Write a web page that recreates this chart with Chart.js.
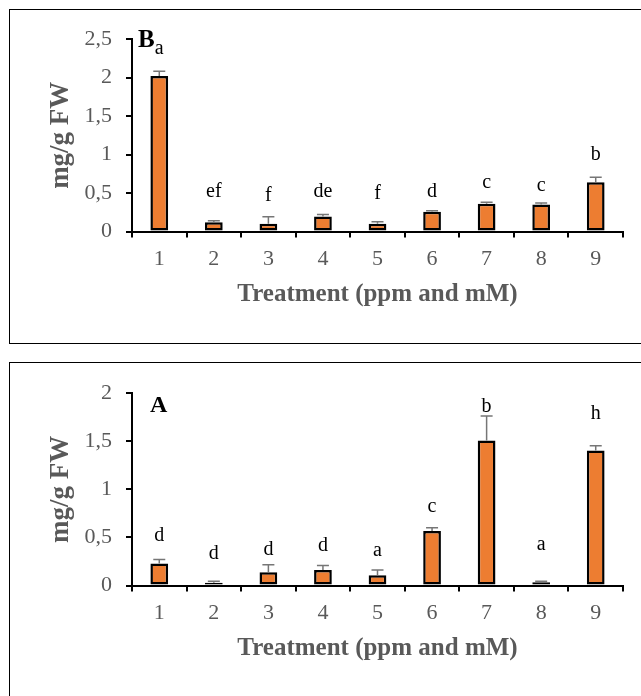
<!DOCTYPE html>
<html>
<head>
<meta charset="utf-8">
<script src="https://cdn.jsdelivr.net/npm/chart.js@4.4.1/dist/chart.umd.min.js"></script>
<style>
  html, body { margin: 0; padding: 0; background: #ffffff; overflow: hidden; }
  body { width: 641px; height: 696px; position: relative; }
  .panel { position: absolute; border: 1.5px solid #000; box-sizing: border-box; }
  canvas { position: absolute; left: 0; }
</style>
</head>
<body>
<div class="panel" style="left:9px; top:9px; width:700px; height:335px;"></div>
<div class="panel" style="left:9px; top:362px; width:700px; height:400px;"></div>
<canvas id="chartB" width="641" height="345" style="top:0px;"></canvas>
<canvas id="chartA" width="641" height="351" style="top:345px;"></canvas>
<script>
// ---- data ----
const categories = ['1', '2', '3', '4', '5', '6', '7', '8', '9'];

// Panel B (top)
const valuesB = [2.02, 0.12, 0.10, 0.196, 0.10, 0.255, 0.36, 0.35, 0.64];
const errorsB = [0.06, 0.02, 0.09, 0.024, 0.026, 0.015, 0.02, 0.02, 0.065];
const lettersB = ['a', 'ef', 'f', 'de', 'f', 'd', 'c', 'c', 'b'];
const letterLevelsB = [2.37, 0.51, 0.47, 0.51, 0.49, 0.52, 0.63, 0.60, 1.0];
const yTicksB = { min: 0, max: 2.5, step: 0.5 };

// Panel A (bottom)
const valuesA = [0.228, 0.028, 0.138, 0.162, 0.107, 0.567, 1.51, 0.035, 1.405];
const errorsA = [0.042, 0.017, 0.077, 0.045, 0.053, 0.033, 0.255, 0.01, 0.048];
const lettersA = ['d', 'd', 'd', 'd', 'a', 'c', 'b', 'a', 'h'];
const letterLevelsA = [0.52, 0.33, 0.37, 0.41, 0.36, 0.82, 1.86, 0.425, 1.79];
const yTicksA = { min: 0, max: 2, step: 0.5 };

const xTitle = 'Treatment (ppm and mM)';
const yTitle = 'mg/g FW';

// ---- rendering ----
const SERIF = '"Liberation Serif", "Times New Roman", serif';
const GREY = '#595959';

const annotPlugin = {
  id: 'annot',
  afterDatasetsDraw(chart, args, opts) {
    const ctx = chart.ctx;
    const meta = chart.getDatasetMeta(0);
    const y = chart.scales.y;
    const ds = chart.data.datasets[0];
    ctx.save();
    // error bars (upper)
    ctx.strokeStyle = '#767676';
    ctx.lineWidth = 1.5;
    meta.data.forEach((bar, i) => {
      const top = y.getPixelForValue(ds.data[i] + opts.errors[i]);
      ctx.beginPath();
      ctx.moveTo(bar.x, bar.y);
      ctx.lineTo(bar.x, top);
      ctx.moveTo(bar.x - 6, top);
      ctx.lineTo(bar.x + 6, top);
      ctx.stroke();
    });
    // significance letters
    ctx.fillStyle = '#000';
    ctx.font = '20px ' + SERIF;
    ctx.textAlign = 'center';
    ctx.textBaseline = 'middle';
    meta.data.forEach((bar, i) => {
      ctx.fillText(opts.letters[i], bar.x, y.getPixelForValue(opts.levels[i]));
    });
    // panel label
    const area = chart.chartArea;
    ctx.font = 'bold ' + opts.panelSize + 'px ' + SERIF;
    ctx.textAlign = 'left';
    ctx.textBaseline = 'alphabetic';
    ctx.fillText(opts.panel, area.left + opts.panelDx, area.top + opts.panelDy);
    ctx.restore();
  }
};

function makeChart(id, values, errors, letters, levels, yt, panel, panelSize, panelDx, panelDy, padTop, xHeight, titlePad) {
  return new Chart(document.getElementById(id), {
    type: 'bar',
    data: {
      labels: categories,
      datasets: [{
        data: values,
        backgroundColor: '#ED7D31',
        borderColor: '#000000',
        borderWidth: 2.5,
        borderSkipped: false,
        categoryPercentage: 1,
        barPercentage: 0.325
      }]
    },
    options: {
      responsive: false,
      animation: false,
      devicePixelRatio: 1,
      layout: { padding: { left: 0, right: 18, top: padTop, bottom: 0 } },
      plugins: {
        legend: { display: false },
        tooltip: { enabled: false },
        annot: { errors, letters, levels, panel, panelSize, panelDx, panelDy }
      },
      scales: {
        x: {
          offset: true,
          border: { display: true, color: '#000', width: 2 },
          grid: { display: true, offset: true, drawOnChartArea: false, drawTicks: true, tickLength: 6, color: '#000', lineWidth: 2 },
          ticks: { color: GREY, font: { family: SERIF, size: 22 }, padding: 9, maxRotation: 0 },
          title: { display: true, text: xTitle, color: GREY, font: { family: SERIF, size: 25, weight: 'bold' }, padding: { top: 0, bottom: titlePad } },
          afterFit(scale) { scale.height = xHeight; }
        },
        y: {
          min: yt.min, max: yt.max,
          border: { display: true, color: '#000', width: 2 },
          grid: { display: true, drawOnChartArea: false, drawTicks: true, tickLength: 6, color: '#000', lineWidth: 2 },
          ticks: { stepSize: yt.step, color: GREY, font: { family: SERIF, size: 22 }, padding: 14,
                   callback: v => String(v).replace('.', ',') },
          title: { display: true, text: yTitle, color: GREY, font: { family: SERIF, size: 27, weight: 'bold', lineHeight: 1 }, padding: { top: 47.5, bottom: 0 } },
          afterFit(scale) { scale.width = 132; }
        }
      }
    },
    plugins: [annotPlugin]
  });
}

const chartB = makeChart('chartB', valuesB, errorsB, lettersB, letterLevelsB, yTicksB, 'B', 25, 6, 8, 39, 113.5, 35.5);
const chartA = makeChart('chartA', valuesA, errorsA, lettersA, letterLevelsA, yTicksA, 'A', 24, 18, 18.5, 48.3, 110.5, 32);
</script>
</body>
</html>
